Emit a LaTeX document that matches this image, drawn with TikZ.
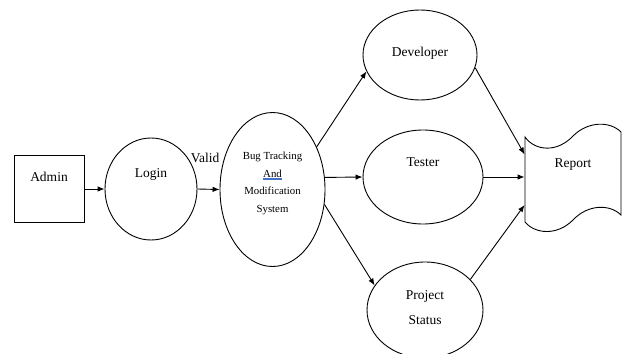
\documentclass[tikz,border=0pt]{standalone}
\usepackage{fontspec}
\setmainfont{Liberation Serif}
\usetikzlibrary{shapes.geometric,arrows.meta}
\definecolor{ulblue}{HTML}{4472C4}
\newcommand\blueul[1]{\setbox0\hbox{#1}\rlap{\color{ulblue}\rule[-2.6pt]{\wd0}{1.4pt}}\box0}
\begin{document}
\begin{tikzpicture}[x=1pt,y=-1pt,
  line width=0.9pt,
  bubble/.style={draw, ellipse, inner sep=0pt},
  lbl/.style={font=\fontsize{13.5}{16}\selectfont, inner sep=0pt},
  flow/.style={-{Latex[length=7pt,width=5.5pt]}}]
\clip (0,0) rectangle (623,353);
\fill[white] (0,0) rectangle (623,353);
% nodes
\node[draw, minimum width=70pt, minimum height=67pt, inner sep=0pt] (admin) at (49,189) {};
\node[lbl] (adminT) at (49,177) {Admin};
\node[bubble, minimum width=92pt, minimum height=102pt] (login) at (151,189) {};
\node[lbl] (loginT) at (151,174) {Login};
\node[lbl] (valid) at (205,158) {Valid};
\node[bubble, minimum width=105pt, minimum height=154pt] (btms) at (272.5,189.5) {};
\node[align=center, inner sep=0pt, font=\fontsize{10.8}{17.7}\selectfont] (btmsT) at (272.5,183.5)
  {Bug Tracking\\\blueul{And}\\Modification\\System};
\node[bubble, minimum width=114pt, minimum height=90pt] (dev) at (420,55) {};
\node[lbl] (devT) at (420,53) {Developer};
\node[bubble, minimum width=120pt, minimum height=94pt] (tester) at (423,177) {};
\node[lbl] (testerT) at (423,162) {Tester};
\node[bubble, minimum width=116pt, minimum height=96pt] (proj) at (425,310) {};
\node[lbl, align=center, font=\fontsize{13.5}{25}\selectfont] (projT) at (425,307.5) {Project\\Status};
\node[minimum width=96pt, minimum height=100pt, inner sep=0pt] (report) at (573,177) {};
\draw (525,137) .. controls (535,151) and (557,153) .. (573,136)
      .. controls (588,121) and (610,121) .. (621,132)
      -- (621,215)
      .. controls (610,204) and (588,204) .. (573,220)
      .. controls (557,236) and (535,234) .. (525,222) -- cycle;
\node[lbl] (reportT) at (573,165) {Report};
% connectors
\draw[flow] (admin.east) -- (login.west);
\draw[flow] (login.east) -- (btms.west);
\draw[flow] (btms.44) -- (dev.197);
\draw[flow] (btms.13) -- (tester.west);
\draw[flow] (btms.-16) -- (proj.154);
\draw[flow] (dev.-13) -- (report.155);
\draw[flow] (tester.east) -- (report.west);
\draw[flow] (proj.34) -- (report.210);
\end{tikzpicture}
\end{document}
